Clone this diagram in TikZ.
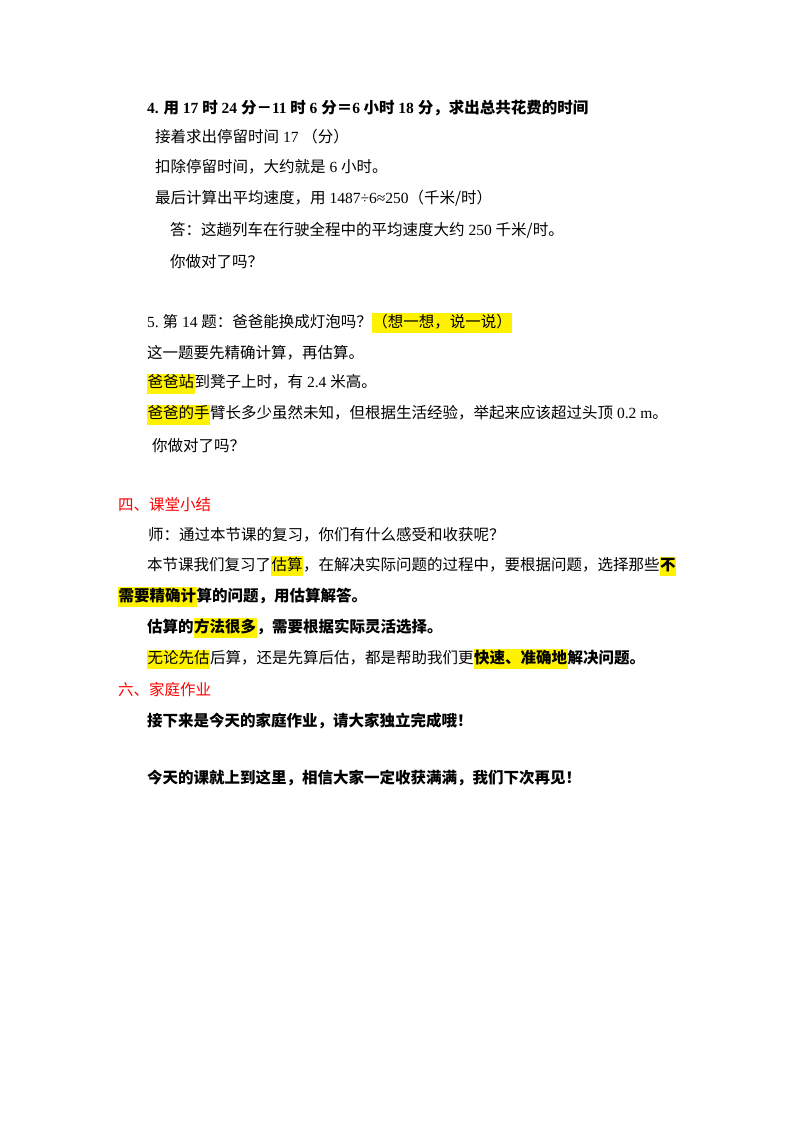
\documentclass[tikz,border=0pt]{standalone}
\usepackage{fontspec}
\usepackage{xcolor}
\setmainfont{Noto Sans CJK SC}
\newfontfamily\enfont{Liberation Serif}
\newcommand{\en}[1]{{\enfont\ #1\ }}
\newcommand{\hlt}[1]{{\setlength{\fboxsep}{0.5pt}\colorbox{yellow}{\strut #1}}}
\definecolor{hdred}{RGB}{255,0,0}
\begin{document}
\begin{tikzpicture}[x=1pt,y=1pt,
  ln/.style={anchor=west,inner sep=0pt,font=\fontsize{15.5}{17}\selectfont},
  bl/.style={ln,font=\fontsize{15.5}{17}\selectfont\bfseries},
  hd/.style={ln,text=hdred}]
\useasboundingbox (0,0) rectangle (800,-1132);
\node[bl] (l1) at (147,-108) {{\enfont\textbf{4.}} 用\en{\textbf{17}}时\en{\textbf{24}}分－{\enfont\textbf{11}}\ 时\en{\textbf{6}}分＝{\enfont\textbf{6}}\ 小时\en{\textbf{18}}分，求出总共花费的时间};
\node[ln] (l2) at (155,-137) {接着求出停留时间\en{17}（分）};
\node[ln] (l3) at (155,-167) {扣除停留时间，大约就是\en{6}小时。};
\node[ln] (l4) at (155,-198) {最后计算出平均速度，用{\enfont\ 1487÷6≈250}（千米/时）};
\node[ln] (l5) at (170,-230) {答：这趟列车在行驶全程中的平均速度大约\en{250}千米/时。};
\node[ln] (l6) at (170,-262) {你做对了吗？};
\node[ln] (m1) at (147,-323) {{\enfont 5.\ }第\en{14}题：爸爸能换成灯泡吗？\hlt{（想一想，说一说）}};
\node[ln] (m2) at (147,-353) {这一题要先精确计算，再估算。};
\node[ln] (m3) at (147,-384) {\hlt{爸爸站}到凳子上时，有\en{2.4}米高。};
\node[ln] (m4) at (147,-415) {\hlt{爸爸的手}臂长多少虽然未知，但根据生活经验，举起来应该超过头顶{\enfont\ 0.2 m}。};
\node[ln] (m5) at (152,-446) {你做对了吗？};
\node[hd] (h1) at (118,-505) {四、课堂小结};
\node[ln] (s1) at (148,-535) {师：通过本节课的复习，你们有什么感受和收获呢？};
\node[ln] (s2) at (147,-566) {本节课我们复习了\hlt{估算}，在解决实际问题的过程中，要根据问题，选择那些\hlt{\bfseries 不}};
\node[bl] (s3) at (118,-597) {\hlt{需要精确计}算的问题，用估算解答。};
\node[bl] (s4) at (147,-628) {估算的\hlt{方法很多}，需要根据实际灵活选择。};
\node[ln] (s5) at (147,-659) {\hlt{无论先估}后算，还是先算后估，都是帮助我们更\hlt{\bfseries 快速、准确地}\textbf{解决问题。}};
\node[hd] (h2) at (118,-690) {六、家庭作业};
\node[bl] (t1) at (147,-721) {接下来是今天的家庭作业，请大家独立完成哦！};
\node[bl] (t2) at (147,-778) {今天的课就上到这里，相信大家一定收获满满，我们下次再见！};
\end{tikzpicture}
\end{document}
